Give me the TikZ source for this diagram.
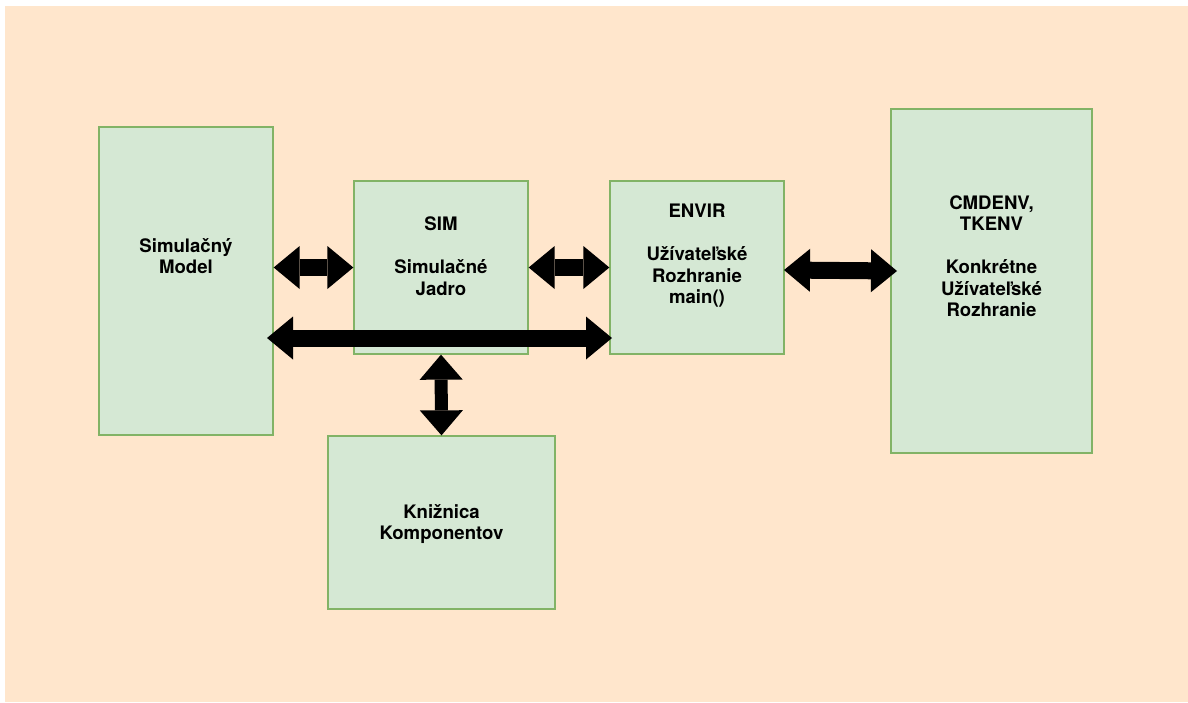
\documentclass[tikz,border=0pt]{standalone}
\usepackage{fontspec}
\setmainfont{TeX Gyre Heros}
\usetikzlibrary{arrows.meta}
\definecolor{bgpeach}{HTML}{FFE6CC}
\definecolor{gfill}{HTML}{D5E8D4}
\definecolor{gline}{HTML}{82B366}
\begin{document}
\begin{tikzpicture}[x=1pt,y=-1pt,
  box/.style={draw=gline, fill=gfill, line width=1.3pt, inner sep=0pt},
  lbl/.style={align=center, font=\bfseries\fontsize{18.6}{21.5}\selectfont, inner sep=0pt},
  bigarrow/.style={line width=17pt, draw=black,
    {Triangle[length=26pt,width=43pt,line width=0pt]}-{Triangle[length=26pt,width=43pt,line width=0pt]}},
  vertarrow/.style={line width=13pt, draw=black,
    {Triangle[length=25pt,width=43pt,line width=0pt]}-{Triangle[length=25pt,width=43pt,line width=0pt]}}
]
\useasboundingbox (0,0) rectangle (1188,702);
\fill[bgpeach] (5,6) rectangle (1188,702);

\node[box, minimum width=174pt, minimum height=308pt] (model) at (186,281) {};
\node[box, minimum width=174pt, minimum height=173pt] (sim) at (441,267.5) {};
\node[box, minimum width=174pt, minimum height=173pt] (envir) at (697,267.5) {};
\node[box, minimum width=201pt, minimum height=344pt] (cmd) at (991.5,281) {};
\node[box, minimum width=227pt, minimum height=173pt] (lib) at (441.5,522.5) {};

\node[lbl] (tmodel) at (186,256) {Simulačný\\Model};
\node[lbl] (tsim) at (441,256) {SIM\\[21.5pt]Simulačné\\Jadro};
\node[lbl] (tenvir) at (697,256) {ENVIR\\[21.5pt]Užívateľské\\Rozhranie\\main()};
\node[lbl] (tcmd) at (991.5,256) {CMDENV,\\TKENV\\[21.5pt]Konkrétne\\Užívateľské\\Rozhranie};
\node[lbl] (tlib) at (441.5,524) {Knižnica\\Komponentov};

\coordinate (la) at (267,338);
\coordinate (lb) at (612,338);
\coordinate (ca) at (784,270);
\coordinate (cb) at (897,271);

\draw[bigarrow] (model.east |- sim.west) -- (sim.west);
\draw[bigarrow] (sim.east) -- (envir.west);
\draw[bigarrow] (ca) -- (cb);
\draw[bigarrow] (la) -- (lb);
\draw[vertarrow] (sim.south) -- (lib.north);
\end{tikzpicture}
\end{document}
